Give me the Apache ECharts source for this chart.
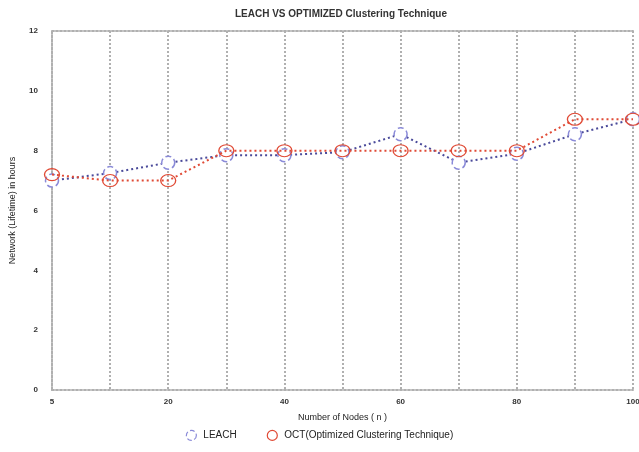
<!DOCTYPE html>
<html><head><meta charset="utf-8">
<script src="https://cdn.jsdelivr.net/npm/echarts@6/dist/echarts.min.js"></script>
<style>html,body{margin:0;padding:0;background:#fff}#c{width:639px;height:452px}</style>
</head><body><div id="c"></div>
<script>
const categories = ['5','10','20','30','40','50','60','70','80','90','100'];
const leach = [7.0, 7.25, 7.6, 7.85, 7.85, 7.95, 8.55, 7.6, 7.9, 8.55, 9.05];
const oct = [7.2, 7.0, 7.0, 8.0, 8.0, 8.0, 8.0, 8.0, 8.0, 9.05, 9.05];
const yTicks = {min: 0, max: 12, interval: 2};

const chart = echarts.init(document.getElementById('c'));
const dotted = {color: '#b0b0b0', width: 2, type: [2, 2]};
chart.setOption({
  animation: false,
  backgroundColor: '#fff',
  title: {text: 'LEACH VS OPTIMIZED Clustering Technique', left: 336, textAlign: 'center', top: 4,
    textStyle: {fontSize: 10, fontWeight: 'bold', color: '#333', fontFamily: 'Liberation Sans'}},
  grid: {left: 52, right: 6, top: 31, bottom: 62, outerBoundsMode: 'none', containLabel: false},
  legend: {bottom: 6, left: 'center', itemGap: 30, itemWidth: 14, itemHeight: 10,
    textStyle: {fontSize: 10, color: '#222', fontFamily: 'Liberation Sans'},
    data: [{name: 'LEACH', icon: 'circle', itemStyle: {color: '#fff', borderColor: '#8a8ad8', borderType: 'dashed', borderWidth: 1.2}},
           {name: 'OCT(Optimized Clustering Technique)', icon: 'circle', itemStyle: {color: '#fff', borderColor: '#e04a35', borderWidth: 1.2}}]},
  xAxis: [{type: 'category', data: categories, boundaryGap: false, position: 'bottom',
    name: 'Number of Nodes ( n )', nameLocation: 'middle', nameGap: 23,
    nameTextStyle: {fontSize: 9, color: '#222', fontFamily: 'Liberation Sans'},
    axisLine: {lineStyle: dotted}, axisTick: {show: false},
    axisLabel: {interval: 1, fontSize: 8, fontWeight: 'bold', color: '#333', margin: 8},
    splitLine: {show: true, interval: 0, lineStyle: dotted}},
   {type: 'category', data: categories, boundaryGap: false, position: 'top',
    axisLine: {lineStyle: dotted}, axisTick: {show: false}, axisLabel: {show: false}, splitLine: {show: false}}],
  yAxis: {type: 'value', min: yTicks.min, max: yTicks.max, interval: yTicks.interval,
    name: 'Network (Lifetime) in hours', nameLocation: 'middle', nameGap: 35,
    nameTextStyle: {fontSize: 9, color: '#222', fontFamily: 'Liberation Sans'},
    axisLine: {show: true, lineStyle: dotted}, axisTick: {show: false},
    axisLabel: {fontSize: 8, fontWeight: 'bold', color: '#333', margin: 14},
    splitLine: {show: false}},
  series: [
    {name: 'LEACH', type: 'line', data: leach, symbol: 'circle', symbolSize: 13,
     lineStyle: {color: '#4a4a9a', width: 2, type: [2, 3]},
     itemStyle: {color: '#fff', borderColor: '#8a8ad8', borderWidth: 1.5, borderType: 'dashed'}, z: 2},
    {name: 'OCT(Optimized Clustering Technique)', type: 'line', data: oct, symbol: 'circle', symbolSize: [15, 12],
     lineStyle: {color: '#e04a35', width: 2, type: [2, 3]},
     itemStyle: {color: 'rgba(255,255,255,0)', borderColor: '#e04a35', borderWidth: 1.2}, z: 3}
  ]
});
</script></body></html>
